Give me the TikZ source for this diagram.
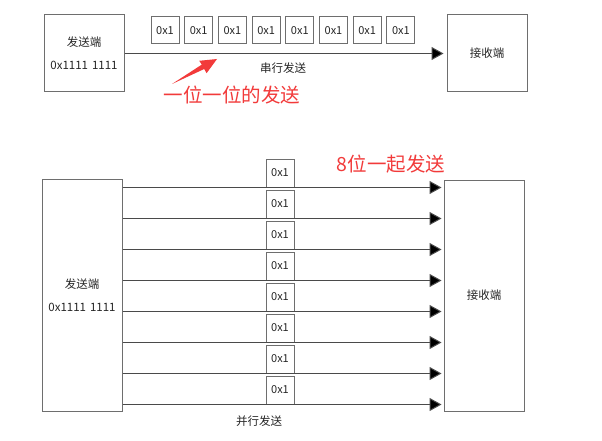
\documentclass[tikz,border=0pt]{standalone}
\usepackage{fontspec}
\setmainfont{Noto Sans CJK SC}
\usetikzlibrary{arrows.meta}
\definecolor{boxgray}{HTML}{6E6E6E}
\definecolor{linegray}{HTML}{4A4A4A}
\definecolor{redtxt}{HTML}{F23A3A}
\begin{document}
\begin{tikzpicture}[x=1pt,y=-1pt,
  endbox/.style={draw=boxgray, line width=1pt, inner sep=0pt, align=center,
    text=black!85, font=\fontsize{11.5}{23}\selectfont},
  bitbox/.style={draw=boxgray, line width=1pt, inner sep=0pt,
    minimum width=28pt, minimum height=27pt, text=black!85,
    font=\fontsize{11}{12}\selectfont},
  conn/.style={draw=linegray, line width=1pt,
    -{Triangle[length=12pt,width=13pt,fill=black]}},
  caption/.style={text=black!85, font=\fontsize{11.5}{13}\selectfont},
  redlabel/.style={text=redtxt, font=\fontsize{19.5}{22}\selectfont},
]
\useasboundingbox (0,0) rectangle (602,441);
\fill[white] (0,0) rectangle (602,441);

% ---------- serial ----------
\node[endbox, minimum width=80pt, minimum height=77pt] (ts) at (84,53.5)
  {发送端\\0x1111\hspace{4pt}1111};
\node[endbox, minimum width=80pt, minimum height=77pt] (tr) at (487,53.5)
  {接收端};
\foreach \i in {0,...,7}{
  \node[bitbox] (tb\i) at ({165+33.7*\i},30.5) {0x1};
}
\draw[conn, shorten >=3pt] (ts) -- (tr);
\node[caption] (tcap) at (283,68) {串行发送};
\node[redlabel] (tred) at (232,95) {一位一位的发送};
\fill[redtxt] (172,84) -- (204.2,69) -- (206.6,73.2) -- (217,59)
  -- (199.2,60.8) -- (201.8,64.6) -- cycle;

% ---------- parallel ----------
\node[endbox, minimum width=80pt, minimum height=232pt] (bs) at (82,295)
  {发送端\\0x1111\hspace{4pt}1111};
\node[endbox, minimum width=80pt, minimum height=231pt] (br) at (484,295.5)
  {接收端};
\foreach \i in {1,...,8}{
  \node[bitbox, minimum height=28pt] (bb\i) at (280,{187+31*(\i-1)-14}) {0x1};
  \draw[conn, shorten >=2pt] (bs.east |- bb\i.south) -- (br.west |- bb\i.south);
}
\node[caption] (bcap) at (259,421) {并行发送};
\node[redlabel] (bred) at (391,164) {8位一起发送};
\end{tikzpicture}
\end{document}
